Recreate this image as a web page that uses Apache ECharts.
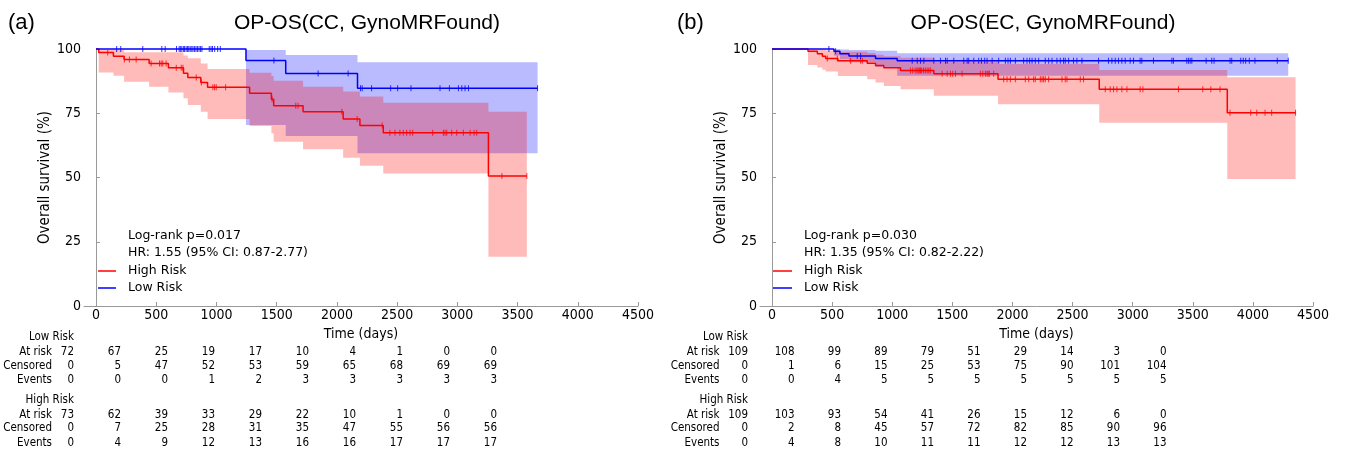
<!DOCTYPE html>
<html>
<head>
<meta charset="utf-8">
<script src="https://cdn.jsdelivr.net/npm/echarts@6/dist/echarts.min.js"></script>
<style>
  html, body { margin: 0; padding: 0; background: #fff; }
  #chart { width: 1346px; height: 454px; }
</style>
</head>
<body>
<div id="chart"></div>
<script>
// ---- panel (a): CC ----
var highA_t  = [0, 22, 144, 233, 441, 601, 726, 762, 870, 926, 1275, 1456, 1475, 1719, 2052, 2191, 2385, 3258, 3577];
var highA_s  = [100, 98.6, 97.2, 95.9, 94.4, 92.7, 90.6, 88.9, 87.0, 85.1, 82.8, 80.4, 77.9, 75.6, 72.8, 70.2, 67.4, 50.6, 50.6];
var highA_lo = [100, 90.9, 89.6, 87.3, 85.3, 83.1, 80.8, 78.2, 75.6, 72.8, 70.0, 67.2, 63.9, 61.0, 57.7, 54.6, 51.6, 19.2, 19.2];
var highA_hi = [100, 99.6, 99.6, 98.7, 98.7, 98.7, 97.5, 96.4, 94.4, 92.2, 90.8, 89.5, 87.6, 85.3, 83.5, 81.5, 79.1, 75.6, 75.6];
var highA_cens = [97, 235, 277, 333, 457, 527, 541, 554, 582, 666, 707, 721, 832, 874, 970, 984, 998, 1076, 1462, 1658, 1677,
  2041, 2168, 2376, 2440, 2482, 2523, 2551, 2579, 2607, 2629, 2795, 2884, 2898, 2912, 2953, 2995, 3050, 3106, 3139, 3161, 3370, 3577];

var lowA_t  = [0, 1245, 1575, 2171, 3666];
var lowA_s  = [100, 95.5, 90.5, 84.7, 84.7];
var lowA_lo = [100, 70.4, 66.1, 59.4, 59.4];
var lowA_hi = [100, 99.6, 97.7, 94.8, 94.8];
var lowA_cens = [171, 205, 388, 546, 574, 668, 690, 700, 712, 725, 735, 748, 760, 770, 782, 795, 805, 818, 830, 842, 855, 868, 879,
  940, 955, 967, 985, 1010, 1032, 1477, 1844, 2093, 2196, 2210, 2288, 2446, 2504, 2615, 2856, 2934, 3009, 3037, 3064, 3092, 3666];

// ---- panel (b): EC ----
var highB_t  = [0, 299, 377, 419, 446, 548, 792, 861, 930, 1069, 1346, 1880, 2722, 3787, 4355];
var highB_s  = [100, 99.1, 98.2, 97.2, 96.3, 95.4, 94.5, 93.6, 92.7, 91.6, 90.4, 88.2, 84.3, 75.2, 75.2];
var highB_lo = [100, 93.8, 92.8, 91.9, 91.2, 89.5, 88.2, 87.0, 85.6, 84.3, 81.8, 78.5, 71.3, 49.4, 49.4];
var highB_hi = [100, 99.8, 99.8, 99.8, 99.4, 98.9, 98.4, 97.8, 97.2, 96.6, 95.0, 94.2, 91.8, 89.0, 89.0];
var highB_cens = [460, 543, 654, 737, 751, 1151, 1170, 1190, 1205, 1215, 1225, 1235, 1245, 1260, 1275, 1290, 1304, 1317, 1415,
  1457, 1484, 1503, 1526, 1581, 1733, 1753, 1775, 1789, 1797, 1808, 1844,
  1927, 1955, 1983, 2024, 2107, 2135, 2176, 2190, 2232, 2246, 2259, 2273, 2301, 2412, 2439, 2453, 2564, 2591,
  2772, 2813, 2841, 2869, 2910, 2952, 3062, 3085, 3381, 3583, 3650, 3727, 3810, 3982, 4032, 4101, 4156, 4355];

var lowB_t  = [0, 515, 565, 640, 861, 1041, 4294];
var lowB_s  = [100, 99.1, 98.2, 97.3, 96.3, 95.4, 95.4];
var lowB_lo = [100, 97.5, 96.0, 94.8, 93.0, 89.6, 89.6];
var lowB_hi = [100, 100, 99.8, 99.6, 99.3, 98.3, 98.3];
var lowB_cens = [473, 529, 709, 737, 1166, 1208, 1235, 1263, 1346, 1401, 1443, 1457, 1512, 1595, 1623, 1636, 1678, 1719, 1742,
  1769, 1789, 1831, 1885, 1941, 1963, 1983, 2024, 2093, 2121, 2143, 2163, 2190, 2218, 2273, 2301, 2329, 2370, 2398, 2425,
  2439, 2467, 2508, 2536, 2578, 2716, 2799, 2827, 2855, 2882, 2910, 2938, 2979, 3007, 3062, 3076, 3173, 3326, 3339, 3450,
  3464, 3478, 3492, 3611, 3658, 3677, 3810, 3824, 3899, 3920, 3940, 3970, 4017, 4203, 4294];

// ---- tick labels ----
var xTicks = [0, 500, 1000, 1500, 2000, 2500, 3000, 3500, 4000, 4500];

// ---- risk tables ----
var riskA_low_atrisk  = [72, 67, 25, 19, 17, 10, 4, 1, 0, 0];
var riskA_low_cens    = [0, 5, 47, 52, 53, 59, 65, 68, 69, 69];
var riskA_low_events  = [0, 0, 0, 1, 2, 3, 3, 3, 3, 3];
var riskA_high_atrisk = [73, 62, 39, 33, 29, 22, 10, 1, 0, 0];
var riskA_high_cens   = [0, 7, 25, 28, 31, 35, 47, 55, 56, 56];
var riskA_high_events = [0, 4, 9, 12, 13, 16, 16, 17, 17, 17];

var riskB_low_atrisk  = [109, 108, 99, 89, 79, 51, 29, 14, 3, 0];
var riskB_low_cens    = [0, 1, 6, 15, 25, 53, 75, 90, 101, 104];
var riskB_low_events  = [0, 0, 4, 5, 5, 5, 5, 5, 5, 5];
var riskB_high_atrisk = [109, 103, 93, 54, 41, 26, 15, 12, 6, 0];
var riskB_high_cens   = [0, 2, 8, 45, 57, 72, 82, 85, 90, 96];
var riskB_high_events = [0, 4, 8, 10, 11, 11, 12, 12, 13, 13];

var RED = '#ff0000', BLUE = '#0000ff';
var DJ = '"DejaVu Sans", sans-serif';
var DJC = '"DejaVu Sans Condensed", "DejaVu Sans", sans-serif';
var ARIAL = '"Liberation Sans", Arial, sans-serif';

var chart = echarts.init(document.getElementById('chart'));

function pairs(ts, vs) {
  return ts.map(function (t, i) { return [t, vs[i]]; });
}
function survAt(ts, ss, t) {
  var s = ss[0];
  for (var i = 0; i < ts.length; i++) {
    if (ts[i] <= t) s = ss[i];
  }
  return s;
}

// confidence band: one step-shaped polygon built from the lo / hi arrays
function bandSeries(k, ts, lo, hi, color, z) {
  return {
    type: 'custom', xAxisIndex: k, yAxisIndex: k,
    data: [[ts[0], hi[0]]],
    renderItem: function (params, api) {
      var pts = [];
      for (var i = 0; i < ts.length - 1; i++) {
        pts.push(api.coord([ts[i], hi[i]]));
        pts.push(api.coord([ts[i + 1], hi[i]]));
      }
      for (var j = ts.length - 2; j >= 0; j--) {
        pts.push(api.coord([ts[j + 1], lo[j]]));
        pts.push(api.coord([ts[j], lo[j]]));
      }
      return { type: 'polygon', shape: { points: pts }, style: { fill: color } };
    },
    silent: true, clip: false, z: z, animation: false
  };
}

function kmSeries(k, ts, ss, cens, color) {
  return [{
    type: 'line', xAxisIndex: k, yAxisIndex: k, step: 'end',
    data: pairs(ts, ss), symbol: 'none',
    lineStyle: { color: color, width: 1.5 },
    silent: true, clip: false, z: 5, animation: false
  }, {
    type: 'scatter', xAxisIndex: k, yAxisIndex: k,
    data: cens.map(function (t) { return [t, survAt(ts, ss, t)]; }),
    symbol: 'rect', symbolSize: [1, 6],
    itemStyle: { color: color },
    silent: true, clip: false, z: 6, animation: false
  }];
}

function xAxisOpt(k) {
  return {
    type: 'value', gridIndex: k, min: -100, max: 4500,
    name: 'Time (days)', nameLocation: 'middle', nameGap: 15,
    nameTextStyle: { fontSize: 14, fontFamily: DJC, color: '#000' },
    axisLine: { lineStyle: { color: '#999', width: 1 } },
    axisTick: { show: true, inside: true, length: 4, customValues: xTicks, lineStyle: { color: '#999' } },
    axisLabel: {
      customValues: xTicks, margin: 2, fontSize: 14, fontFamily: DJC, color: '#000',
      formatter: function (v) { return String(v); }
    },
    splitLine: { show: false }
  };
}
function yAxisOpt(k) {
  return {
    type: 'value', gridIndex: k, min: 0, max: 100, interval: 25,
    name: 'Overall survival (%)', nameLocation: 'middle', nameGap: 29, nameRotate: 90,
    nameTextStyle: { fontSize: 15, fontFamily: DJC, color: '#000' },
    axisLine: { show: true, lineStyle: { color: '#999', width: 1 } },
    axisTick: { show: true, inside: true, length: 4, lineStyle: { color: '#999' } },
    axisLabel: { margin: 3, fontSize: 14, fontFamily: DJC, color: '#000' },
    splitLine: { show: false }
  };
}

var graphics = [];
function txt(x, y, s, size, family, align) {
  graphics.push({
    type: 'text', x: x, y: y, silent: true,
    style: { text: s, fill: '#000', fontSize: size, fontFamily: family, align: align || 'left', verticalAlign: 'middle' }
  });
}
function seg(x1, x2, y, color) {
  graphics.push({
    type: 'line', silent: true,
    shape: { x1: x1, y1: y, x2: x2, y2: y },
    style: { stroke: color, lineWidth: 1.5 }
  });
}

function panelText(opt) {
  txt(opt.labelX, 23, opt.label, 22, ARIAL, 'left');
  txt(opt.titleX, 23, opt.title, 21, ARIAL, 'center');
  txt(opt.statX, 236, opt.logrank, 12.5, DJ);
  txt(opt.statX, 253, opt.hr, 12.5, DJ);
  seg(opt.legX1, opt.legX2, 271, RED);
  txt(opt.statX, 271, 'High Risk', 12.5, DJ);
  seg(opt.legX1, opt.legX2, 288, BLUE);
  txt(opt.statX, 288, 'Low Risk', 12.5, DJ);

  var rowsY = [337, 352, 366, 380, 400, 415, 428.5, 443];
  var fs = 11.5;
  txt(opt.col0, rowsY[0], 'Low Risk', fs, DJC, 'right');
  txt(opt.col0, rowsY[4], 'High Risk', fs, DJC, 'right');
  var names = ['At risk', 'Censored', 'Events'];
  var groups = [opt.low, opt.high];
  groups.forEach(function (g, gi) {
    g.forEach(function (row, ri) {
      var y = rowsY[gi * 4 + 1 + ri];
      txt(opt.rowLabelX, y, names[ri], fs, DJC, 'right');
      row.forEach(function (v, ci) {
        txt(opt.col0 + ci * opt.colStep, y, String(v), fs, DJC, 'right');
      });
    });
  });
}

panelText({
  label: '(a)', labelX: 8, title: 'OP-OS(CC, GynoMRFound)', titleX: 367,
  statX: 128, legX1: 98, legX2: 116,
  logrank: 'Log-rank p=0.017', hr: 'HR: 1.55 (95% CI: 0.87-2.77)',
  rowLabelX: 52, col0: 74, colStep: 47,
  low: [riskA_low_atrisk, riskA_low_cens, riskA_low_events],
  high: [riskA_high_atrisk, riskA_high_cens, riskA_high_events]
});
panelText({
  label: '(b)', labelX: 677, title: 'OP-OS(EC, GynoMRFound)', titleX: 1043,
  statX: 804, legX1: 773, legX2: 792,
  logrank: 'Log-rank p=0.030', hr: 'HR: 1.35 (95% CI: 0.82-2.22)',
  rowLabelX: 719.5, col0: 748, colStep: 46.5,
  low: [riskB_low_atrisk, riskB_low_cens, riskB_low_events],
  high: [riskB_high_atrisk, riskB_high_cens, riskB_high_events]
});

var series = [].concat(
  bandSeries(0, lowA_t, lowA_lo, lowA_hi, 'rgba(0,0,255,0.27)', 1),
  bandSeries(0, highA_t, highA_lo, highA_hi, 'rgba(255,0,0,0.27)', 2),
  kmSeries(0, highA_t, highA_s, highA_cens, RED),
  kmSeries(0, lowA_t, lowA_s, lowA_cens, BLUE),
  bandSeries(1, lowB_t, lowB_lo, lowB_hi, 'rgba(0,0,255,0.27)', 1),
  bandSeries(1, highB_t, highB_lo, highB_hi, 'rgba(255,0,0,0.27)', 2),
  kmSeries(1, highB_t, highB_s, highB_cens, RED),
  kmSeries(1, lowB_t, lowB_s, lowB_cens, BLUE)
);

chart.setOption({
  animation: false,
  backgroundColor: '#fff',
  grid: [
    { left: 84, top: 49, width: 554, height: 257 },
    { left: 760, top: 49, width: 553, height: 257 }
  ],
  xAxis: [xAxisOpt(0), xAxisOpt(1)],
  yAxis: [yAxisOpt(0), yAxisOpt(1)],
  series: series,
  graphic: graphics
});
</script>
</body>
</html>
